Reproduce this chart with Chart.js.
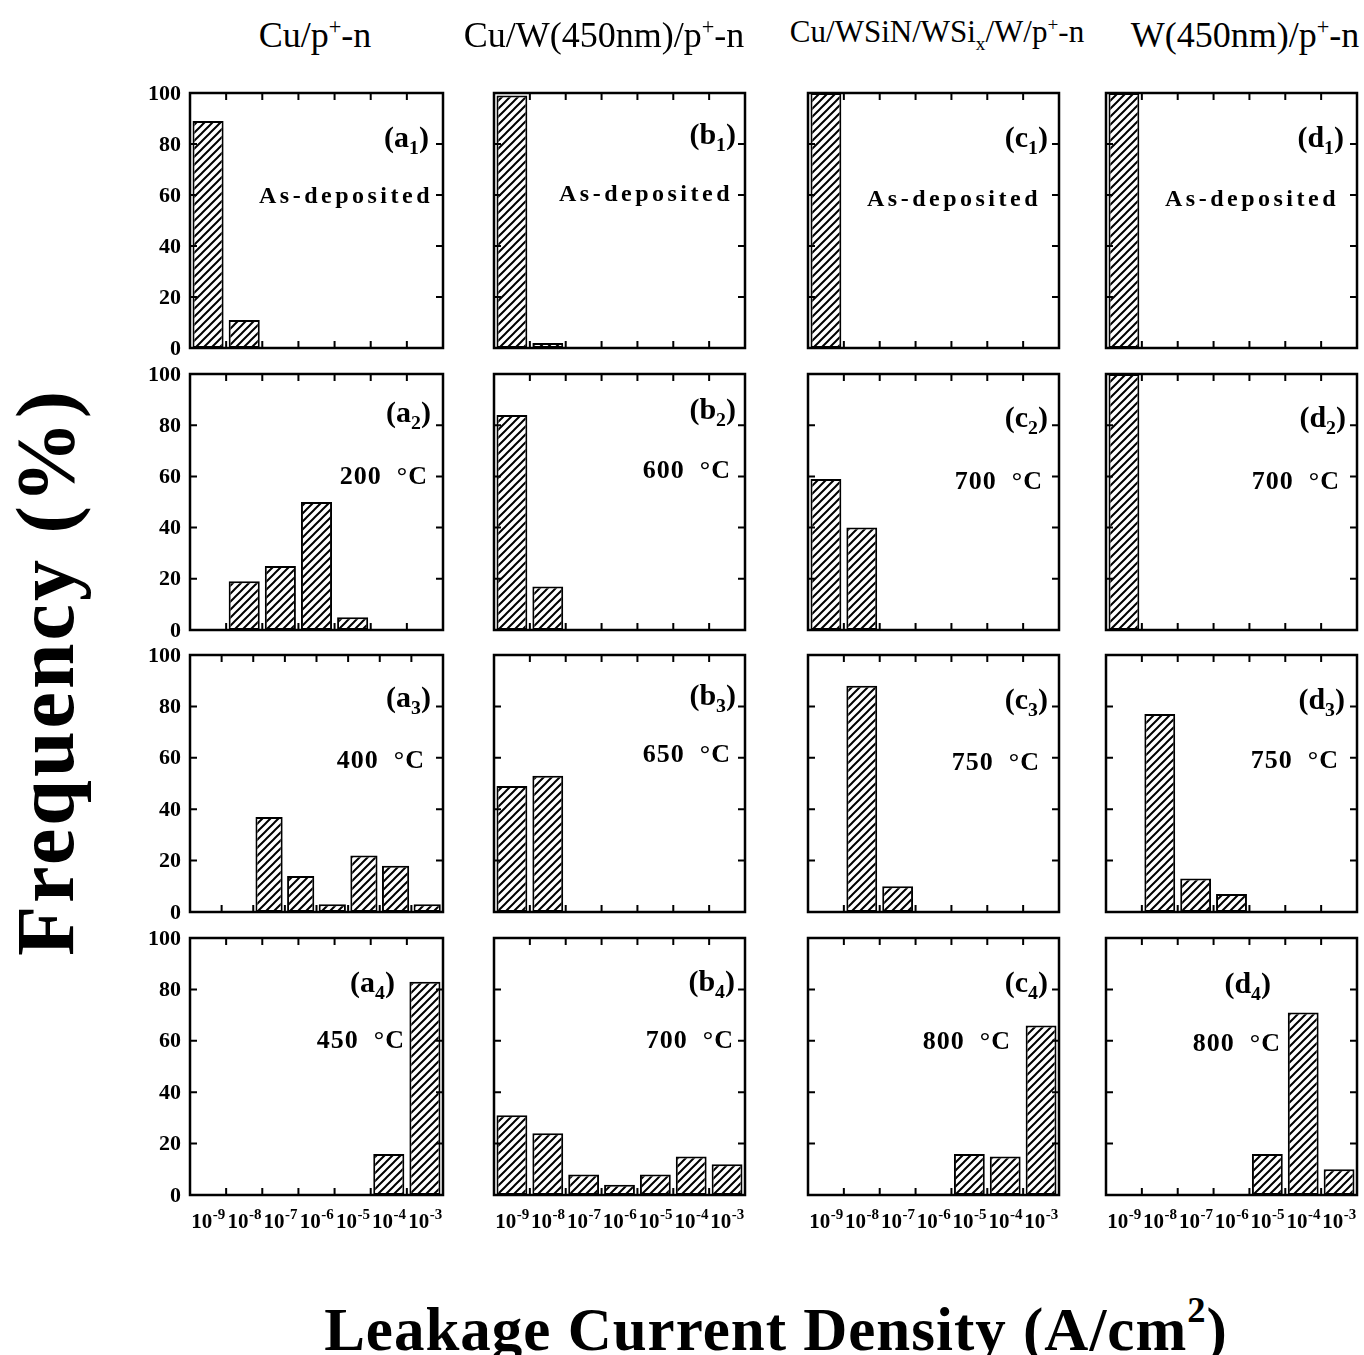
<!DOCTYPE html>
<html>
<head>
<meta charset="utf-8">
<script src="https://cdn.jsdelivr.net/npm/chart.js@4.4.0/dist/chart.umd.min.js"></script>
<style>
  body { margin: 0; background: #fff; }
  #page { position: relative; width: 1364px; height: 1355px; overflow: hidden; font-family: 'Liberation Serif', 'DejaVu Serif', serif; color: #000; }
  canvas { position: absolute; }
  .txt { position: absolute; white-space: nowrap; line-height: 1; }
  .tag { font-weight: bold; font-size: 30px; transform: translate(-100%, -50%); }
  .tag sub { font-size: 0.66em; vertical-align: -0.32em; }
  .cond { font-weight: bold; font-size: 26px; letter-spacing: 1px; transform: translate(-100%, -50%); }
  .cond.dep { font-size: 24px; letter-spacing: 3.5px; }
  .coltitle { font-size: 36px; transform: translate(-50%, -50%); }
  .coltitle.small { font-size: 31px; }
  .coltitle sup, .coltitle sub { font-size: 0.62em; }
  #xtitle { font-size: 61px; font-weight: bold; transform: translate(-50%, -50%); letter-spacing: 1px; }
  #xtitle sup { font-size: 0.6em; vertical-align: 0.75em; }
  #ytitle { font-size: 82px; font-weight: bold; transform: translate(-50%, -50%) rotate(-90deg); letter-spacing: 3px; }
</style>
</head>
<body>
<div id="page"></div>
<script>
// Бины тока утечки (показатели степени, A/cm^2) и подписи осей
const binExp = [-9, -8, -7, -6, -5, -4, -3];
const binExpA3 = [-10, -9, -8, -7, -6, -5, -4, -3];
const yTicks = [0, 20, 40, 60, 80, 100];
const colTitles = ['Cu/p<sup>+</sup>-n', 'Cu/W(450nm)/p<sup>+</sup>-n', 'Cu/WSiN/WSi<sub>x</sub>/W/p<sup>+</sup>-n', 'W(450nm)/p<sup>+</sup>-n'];
const conditions = [
  ['As-deposited', '200  °C', '400  °C', '450  °C'],
  ['As-deposited', '600  °C', '650  °C', '700  °C'],
  ['As-deposited', '700  °C', '750  °C', '800  °C'],
  ['As-deposited', '700  °C', '750  °C', '800  °C']
];

// Частоты, %
const a1 = [89, 11, 0, 0, 0, 0, 0];
const a2 = [0, 19, 25, 50, 5, 0, 0];
const a3 = [0, 0, 37, 14, 3, 22, 18, 3];
const a4 = [0, 0, 0, 0, 0, 16, 83];
const b1 = [99, 2, 0, 0, 0, 0, 0];
const b2 = [84, 17, 0, 0, 0, 0, 0];
const b3 = [49, 53, 0, 0, 0, 0, 0];
const b4 = [31, 24, 8, 4, 8, 15, 12];
const c1 = [100, 0, 0, 0, 0, 0, 0];
const c2 = [59, 40, 0, 0, 0, 0, 0];
const c3 = [0, 88, 10, 0, 0, 0, 0];
const c4 = [0, 0, 0, 0, 16, 15, 66];
const d1 = [100, 0, 0, 0, 0, 0, 0];
const d2 = [100, 0, 0, 0, 0, 0, 0];
const d3 = [0, 77, 13, 7, 0, 0, 0];
const d4 = [0, 0, 0, 0, 16, 71, 10];

const series = [[a1, a2, a3, a4], [b1, b2, b3, b4], [c1, c2, c3, c4], [d1, d2, d3, d4]];
const letters = ['a', 'b', 'c', 'd'];

// Раскладка рамок панелей
const colL = [190, 494, 808, 1106], colR = [443, 745, 1059, 1357];
const rowT = [93, 374, 655, 938], rowB = [348, 630, 912, 1195];
const PADL = 60, PADT = 16, PADR = 6, PADB = 44;
const titleX = [315, 604, 937, 1245];
// позиции подписей: [правый край, центр по y]
const tagPos = [
  [[429, 140], [431, 415], [431, 700], [395, 985]],
  [[736, 137], [736, 412], [736, 698], [735, 984]],
  [[1048, 140], [1048, 420], [1048, 702], [1048, 985]],
  [[1344, 140], [1346, 420], [1345, 702], [1271, 986]]
];
const condPos = [
  [[433, 195], [428, 476], [425, 760], [405, 1040]],
  [[733, 193], [731, 470], [731, 754], [734, 1040]],
  [[1041, 198], [1043, 481], [1040, 762], [1011, 1041]],
  [[1339, 198], [1340, 481], [1339, 760], [1281, 1043]]
];

const page = document.getElementById('page');
const FONT = "'Liberation Serif', 'DejaVu Serif', serif";

// Штриховка столбцов
function hatchPattern() {
  const c = document.createElement('canvas');
  c.width = c.height = 8;
  const g = c.getContext('2d');
  g.fillStyle = '#fff';
  g.fillRect(0, 0, 8, 8);
  g.strokeStyle = '#000';
  g.lineWidth = 2;
  g.beginPath();
  g.moveTo(0, 8); g.lineTo(8, 0);
  g.moveTo(-2, 2); g.lineTo(2, -2);
  g.moveTo(6, 10); g.lineTo(10, 6);
  g.stroke();
  return g.createPattern(c, 'repeat');
}
const hatch = hatchPattern();

// Рамка, внутренние засечки и подписи осей
const framePlugin = {
  id: 'frame',
  afterDatasetsDraw(chart, args, opts) {
    const { ctx, chartArea: a, scales: { x, y } } = chart;
    ctx.save();
    ctx.strokeStyle = '#000';
    ctx.lineWidth = 2.5;
    ctx.strokeRect(a.left, a.top, a.right - a.left, a.bottom - a.top);
    ctx.lineWidth = 2;
    ctx.beginPath();
    const n = x.getLabels().length;
    for (let i = 1; i < n; i++) {
      const px = (x.getPixelForValue(i - 1) + x.getPixelForValue(i)) / 2;
      ctx.moveTo(px, a.top); ctx.lineTo(px, a.top + 7);
      ctx.moveTo(px, a.bottom); ctx.lineTo(px, a.bottom - 7);
    }
    yTicks.slice(1, -1).forEach(v => {
      const py = y.getPixelForValue(v);
      ctx.moveTo(a.left, py); ctx.lineTo(a.left + 7, py);
      ctx.moveTo(a.right, py); ctx.lineTo(a.right - 7, py);
    });
    ctx.stroke();

    ctx.fillStyle = '#000';
    // подписи оси Y (только левый столбец)
    if (opts.showY) {
      ctx.font = 'bold 22px ' + FONT;
      ctx.textAlign = 'right';
      ctx.textBaseline = 'middle';
      yTicks.forEach(v => ctx.fillText(String(v), a.left - 9, y.getPixelForValue(v) + 1));
    }
    // подписи 10^n (только нижний ряд)
    if (opts.showX) {
      ctx.textBaseline = 'alphabetic';
      ctx.textAlign = 'left';
      x.getLabels().forEach((e, i) => {
        const base = '10', sup = String(e);
        ctx.font = 'bold 21px ' + FONT;
        const wb = ctx.measureText(base).width;
        ctx.font = 'bold 15px ' + FONT;
        const ws = ctx.measureText(sup).width;
        const cx = x.getPixelForValue(i);
        const left = cx - (wb + ws) / 2;
        const by = a.bottom + 33;
        ctx.font = 'bold 21px ' + FONT;
        ctx.fillText(base, left, by);
        ctx.font = 'bold 15px ' + FONT;
        ctx.fillText(sup, left + wb + 0.5, by - 9);
      });
    }
    ctx.restore();
  }
};

function addText(cls, html, left, top, id) {
  const el = document.createElement('div');
  el.className = 'txt ' + cls;
  if (id) el.id = id;
  el.style.left = left + 'px';
  el.style.top = top + 'px';
  el.innerHTML = html;
  page.appendChild(el);
}

function makePanel(col, row) {
  const values = series[col][row];
  const labels = values.length === 8 ? binExpA3 : binExp;
  const w = colR[col] - colL[col], h = rowB[row] - rowT[row];
  const canvas = document.createElement('canvas');
  canvas.width = w + PADL + PADR;
  canvas.height = h + PADT + PADB;
  canvas.style.left = (colL[col] - PADL) + 'px';
  canvas.style.top = (rowT[row] - PADT) + 'px';
  page.appendChild(canvas);

  new Chart(canvas.getContext('2d'), {
    type: 'bar',
    data: {
      labels: labels,
      datasets: [{
        data: values.map(v => v > 0 ? v : null),
        backgroundColor: hatch,
        borderColor: '#000',
        borderWidth: 2,
        borderSkipped: false,
        categoryPercentage: 0.86,
        barPercentage: 1
      }]
    },
    options: {
      responsive: false,
      animation: false,
      devicePixelRatio: 1,
      layout: { padding: { left: 0, top: PADT, right: PADR, bottom: 0 } },
      plugins: {
        legend: { display: false },
        tooltip: { enabled: false },
        frame: { showX: row === 3, showY: col === 0 }
      },
      scales: {
        x: {
          offset: true,
          grid: { display: false },
          border: { display: false },
          ticks: { display: false },
          afterFit(s) { s.height = PADB; }
        },
        y: {
          min: 0,
          max: 100,
          grid: { display: false },
          border: { display: false },
          ticks: { display: false, stepSize: 20 },
          afterFit(s) { s.width = PADL; }
        }
      }
    },
    plugins: [framePlugin]
  });

  const idx = row + 1;
  addText('tag', '(' + letters[col] + '<sub>' + idx + '</sub>)', tagPos[col][row][0], tagPos[col][row][1]);
  const cond = conditions[col][row];
  addText('cond' + (row === 0 ? ' dep' : ''), cond.replace(/ /g, '&nbsp;'), condPos[col][row][0], condPos[col][row][1]);
}

for (let c = 0; c < 4; c++) {
  for (let r = 0; r < 4; r++) makePanel(c, r);
  addText('coltitle' + (c === 2 ? ' small' : ''), colTitles[c], titleX[c], 34);
}
addText('', 'Leakage Current Density (A/cm<sup>2</sup>)', 776, 1326, 'xtitle');
addText('', 'Frequency (%)', 46, 672, 'ytitle');
</script>
</body>
</html>
